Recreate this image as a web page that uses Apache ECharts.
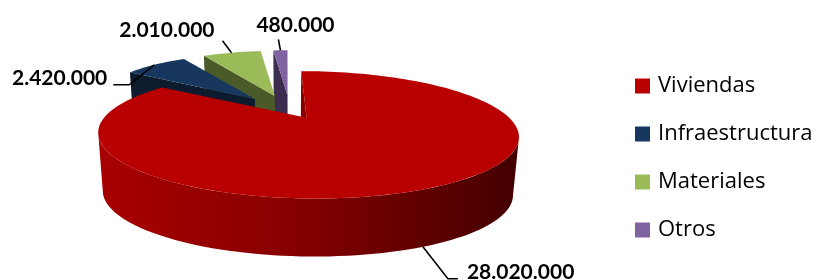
<!DOCTYPE html>
<html>
<head>
<meta charset="utf-8">
<title>Distribución de la inversión</title>
<script src="https://cdn.jsdelivr.net/npm/echarts@6/dist/echarts.min.js"></script>
<style>
  html, body { margin: 0; padding: 0; background: #fff; }
  #chart { width: 821px; height: 280px; }
</style>
</head>
<body>
<div id="chart"></div>
<script>
// datos
var categories = ['Viviendas', 'Infraestructura', 'Materiales', 'Otros'];
var values = [28020000, 2420000, 2010000, 480000];

// colores (cara superior / caras laterales)
var topColors = ['#B80000', '#17375E', '#9BBB59', '#8064A2'];
var sideColors = ['#8A0000', '#0C1B2E', '#4A5A28', '#3C2D50'];

// vistas del pastel 3D: la porcion grande va separada hacia delante
var views = [
  { px: 281, py: 104, sx: 190, sy: 52, persp: 0.25, explode: 0.28 },
  { px: 290, py: 111, sx: 155, sy: 45, persp: 0, explode: 0.35 }
];
var viewOf = [0, 1, 1, 1];
var depth = 58, bottomShrink = 0.975;

// etiquetas: punto del arco (fraccion), codo y cola de la linea guia
var labelLayout = [
  { at: 0.507, bottom: true, elbow: [25, 32], tail: 10, text: [9, -7], align: 'left' },
  { at: 0.5, bottom: false, elbow: [-25, 20], tail: -16, text: [-6, -7], align: 'right' },
  { at: 0.5, bottom: false, elbow: [-9, -12], tail: 0, text: [-8, -10], align: 'right' },
  { at: 0.5, bottom: false, elbow: [-2, -11], tail: 0, text: [-22, -14], align: 'left' }
];

var total = values.reduce(function (a, b) { return a + b; }, 0);

function fmt(v) {
  return String(v).replace(/\B(?=(\d{3})+(?!\d))/g, '.');
}

function rad(d) { return d * Math.PI / 180; }

// X a la derecha, Z hacia el fondo (radio 1)
function proj(V, X, Z, bottom) {
  var den = 1 + V.persp * Z;
  return [
    V.px + V.sx * X / den * (bottom ? bottomShrink : 1),
    V.py - V.sy * Z / den + (bottom ? depth : 0)
  ];
}

function rim(V, c, deg, bottom) {
  return proj(V, c[0] + Math.sin(rad(deg)), c[1] + Math.cos(rad(deg)), bottom);
}

function arc(V, c, from, to, bottom) {
  var pts = [];
  var n = Math.max(2, Math.ceil(Math.abs(to - from) / 2));
  for (var k = 0; k <= n; k++) pts.push(rim(V, c, from + (to - from) * k / n, bottom));
  return pts;
}

function area(pts) {
  var s = 0;
  for (var k = 0; k < pts.length; k++) {
    var p = pts[k], q = pts[(k + 1) % pts.length];
    s += p[0] * q[1] - q[0] * p[1];
  }
  return s;
}

// angulos donde el borde es mas a la derecha / izquierda (silueta)
function silhouette(V, c) {
  var right = 90, left = 270, maxX = -1e9, minX = 1e9;
  for (var d = 0; d <= 360; d += 0.5) {
    var x = rim(V, c, d, false)[0];
    if (d <= 180 && x > maxX) { maxX = x; right = d; }
    if (d >= 180 && x < minX) { minX = x; left = d; }
  }
  return [right, left];
}

function renderSlice(i) {
  return function (params, api) {
    var V = views[viewOf[i]];
    var v = api.value(0);
    var before = 0;
    for (var j = 0; j < i; j++) before += values[j];
    var start = before / total * 360;
    var end = start + v / total * 360;
    var mid = (start + end) / 2;
    var c = [V.explode * Math.sin(rad(mid)), V.explode * Math.cos(rad(mid))];
    var cTop = proj(V, c[0], c[1], false), cBot = proj(V, c[0], c[1], true);
    var children = [];

    // caras de corte (solo las que miran al frente)
    [start, end].forEach(function (a, idx) {
      var quad = [cTop, rim(V, c, a, false), rim(V, c, a, true), cBot];
      var s = area(quad);
      if ((idx === 0 && s < 0) || (idx === 1 && s > 0)) {
        children.push({ type: 'polygon', shape: { points: quad }, style: { fill: sideColors[i] } });
      }
    });

    // pared exterior
    var sil = silhouette(V, c);
    var lo = Math.max(start, sil[0]), hi = Math.min(end, sil[1]);
    if (lo < hi) {
      children.push({
        type: 'polygon',
        shape: { points: arc(V, c, lo, hi, false).concat(arc(V, c, hi, lo, true)) },
        style: {
          fill: i === 0 ? {
            type: 'linear', x: 0, y: 0, x2: 1, y2: 0,
            colorStops: [
              { offset: 0, color: '#A80000' },
              { offset: 0.45, color: '#880000' },
              { offset: 0.8, color: '#5C0000' },
              { offset: 1, color: '#430000' }
            ]
          } : sideColors[i]
        }
      });
    }

    // cara superior
    children.push({
      type: 'polygon',
      shape: { points: [cTop].concat(arc(V, c, start, end, false)) },
      style: { fill: topColors[i] }
    });

    // etiqueta con linea guia
    var L = labelLayout[i];
    var a = rim(V, c, start + (end - start) * L.at, L.bottom);
    var b = [a[0] + L.elbow[0], a[1] + L.elbow[1]];
    var e = [b[0] + L.tail, b[1]];
    children.push({
      type: 'polyline',
      shape: { points: L.tail ? [a, b, e] : [a, b] },
      style: { stroke: '#000', lineWidth: 1.6, fill: null }
    });
    children.push({
      type: 'text',
      x: e[0] + L.text[0],
      y: e[1] + L.text[1],
      style: {
        text: fmt(v),
        font: 'bold 21px Lato',
        fill: '#000',
        align: L.align,
        verticalAlign: 'middle'
      }
    });
    return { type: 'group', children: children };
  };
}

var chart = echarts.init(document.getElementById('chart'));

// se dibuja de atras hacia adelante
var order = [3, 2, 1, 0];
var series = order.map(function (i) {
  return {
    type: 'custom',
    name: categories[i],
    coordinateSystem: 'none',
    silent: true,
    itemStyle: { color: topColors[i] },
    renderItem: renderSlice(i),
    data: [[values[i]]]
  };
});

chart.setOption({
  animation: false,
  legend: {
    orient: 'vertical',
    left: 630,
    top: 70,
    icon: 'rect',
    itemWidth: 15,
    itemHeight: 15,
    itemGap: 26,
    selectedMode: false,
    data: categories,
    textStyle: {
      fontFamily: 'Open Sans',
      fontSize: 22,
      lineHeight: 22,
      color: '#000',
      padding: [0, 0, 0, 3]
    }
  },
  series: series
});
</script>
</body>
</html>
